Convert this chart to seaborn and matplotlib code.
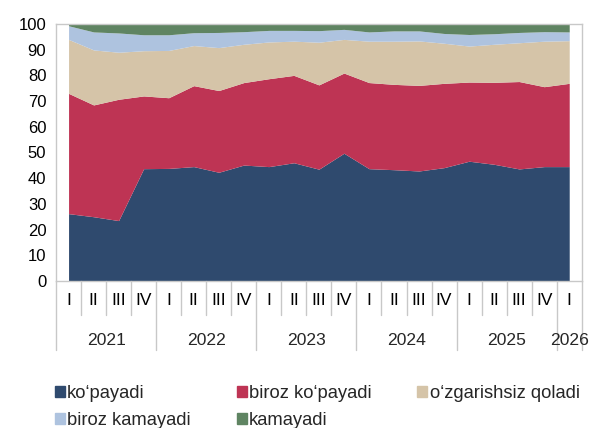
import matplotlib.pyplot as plt
import matplotlib.transforms as mtransforms
from matplotlib.patches import Patch
import seaborn as sns
import numpy as np

quarters = ["I", "II", "III", "IV"] * 5 + ["I"]
years = ["2021", "2022", "2023", "2024", "2025", "2026"]
year_sizes = [4, 4, 4, 4, 4, 1]

series_names = ["ko\u2018payadi", "biroz ko\u2018payadi", "o\u2018zgarishsiz qoladi",
                "biroz kamayadi", "kamayadi"]
kopayadi = [26.2, 25.0, 23.5, 43.7, 43.8, 44.5, 42.3, 45.1, 44.5, 46.0, 43.5,
            49.7, 43.7, 43.3, 42.8, 44.1, 46.6, 45.4, 43.6, 44.5, 44.5]
biroz_kopayadi = [46.8, 43.5, 47.2, 28.3, 27.5, 31.5, 31.8, 32.1, 34.2, 34.0, 32.8,
                  31.2, 33.5, 33.2, 33.3, 32.8, 30.8, 31.9, 34.0, 31.1, 32.4]
ozgarishsiz = [21.0, 21.4, 18.3, 17.6, 18.4, 15.6, 16.7, 14.9, 14.3, 13.3, 16.6,
               13.1, 16.1, 16.8, 17.3, 15.6, 14.0, 14.8, 15.1, 17.7, 16.6]
biroz_kamayadi = [5.3, 7.0, 7.5, 6.2, 6.1, 5.0, 5.9, 4.9, 4.5, 4.2, 4.5,
                  3.9, 3.6, 4.0, 3.9, 3.8, 4.5, 4.1, 4.0, 3.7, 3.4]
kamayadi = [0.7, 3.1, 3.5, 4.2, 4.2, 3.4, 3.3, 3.0, 2.5, 2.5, 2.6,
            2.1, 3.1, 2.7, 2.7, 3.7, 4.1, 3.8, 3.3, 3.0, 3.1]

colors = ["#2F4A6E", "#BE3454", "#D5C4A8", "#AEC3DF", "#5F8462"]

sns.set_style("white")
plt.rcParams['font.family'] = ['Liberation Sans', 'DejaVu Sans']

fig = plt.figure(figsize=(5.9, 4.28), dpi=100)
ax = fig.add_axes([0.095, 0.3435, 0.891, 0.6005])

x = np.arange(len(quarters))
ax.stackplot(x, kopayadi, biroz_kopayadi, ozgarishsiz, biroz_kamayadi, kamayadi,
             colors=sns.color_palette(colors), linewidth=0)

ax.set_xlim(-0.5, len(quarters) - 0.5)
ax.set_ylim(0, 100)
ax.set_yticks(range(0, 101, 10))
ax.tick_params(axis='y', length=0, pad=7, labelsize=12, colors='black')
ax.set_xticks(x)
ax.set_xticklabels(quarters)
ax.tick_params(axis='x', length=0, pad=9, labelsize=12.5, colors='black')

grey = '#C8C8C8'
for s in ax.spines.values():
    s.set_color(grey)
    s.set_linewidth(1)

# two-level category axis
trans = mtransforms.blended_transform_factory(ax.transData, ax.transAxes)
bounds = np.cumsum([0] + year_sizes) - 0.5
for b in np.arange(-0.5, len(quarters), 1.0):
    long = np.any(np.isclose(bounds, b))
    ax.plot([b, b], [0, -0.268 if long else -0.132], color=grey, lw=1,
            transform=trans, clip_on=False)
for yr, lo, hi in zip(years, bounds[:-1], bounds[1:]):
    ax.text((lo + hi) / 2, -0.23, yr, transform=trans, ha='center', va='center',
            fontsize=12.6)

handles = [Patch(color=c, label=n) for c, n in zip(colors, series_names)]
order = [0, 3, 1, 4, 2]
fig.legend([handles[i] for i in order], [series_names[i] for i in order],
           loc='upper left', bbox_to_anchor=(0.093, 0.1), ncol=3, frameon=False,
           fontsize=13.2, handlelength=0.55, handleheight=0.55, handletextpad=0.12,
           columnspacing=2.5, labelspacing=0.55, borderpad=0, borderaxespad=0)

fig.savefig("out.png", dpi=100)
